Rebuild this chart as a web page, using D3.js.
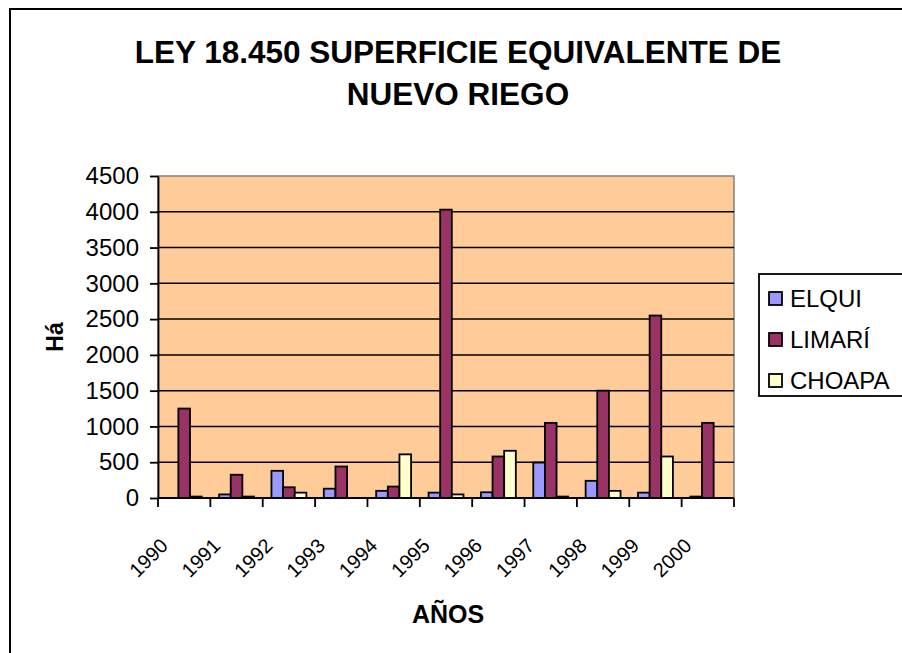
<!DOCTYPE html>
<html>
<head>
<meta charset="utf-8">
<script src="https://cdn.jsdelivr.net/npm/d3@7"></script>
<style>
  body { margin: 0; background: #fff; }
  svg { font-family: "Liberation Sans", Arial, sans-serif; }
</style>
</head>
<body>
<div id="chart"></div>
<script>
var years = ['1990', '1991', '1992', '1993', '1994', '1995', '1996', '1997', '1998', '1999', '2000'];
var seriesNames = ['ELQUI', 'LIMARÍ', 'CHOAPA'];
var elqui  = [0, 50, 380, 130, 100, 75, 80, 495, 240, 75, 20];
var limari = [1250, 325, 150, 440, 160, 4030, 580, 1050, 1500, 2550, 1050];
var choapa = [20, 20, 75, 0, 610, 50, 660, 20, 100, 580, 0];
var yTicks = [0, 500, 1000, 1500, 2000, 2500, 3000, 3500, 4000, 4500];
var colors = ['#9999FF', '#993366', '#FFFFCC'];

var W = 902, H = 653;
var plot = {left: 158, right: 734, top: 176, bottom: 498};

var svg = d3.select('#chart').append('svg')
    .attr('width', W)
    .attr('height', H);

// chart frame (runs off the right and bottom edges)
svg.append('rect')
    .attr('x', 10).attr('y', 9)
    .attr('width', W).attr('height', H)
    .attr('fill', '#fff')
    .attr('stroke', '#000')
    .attr('stroke-width', 2);

var title = svg.append('text')
    .attr('text-anchor', 'middle')
    .attr('font-weight', 'bold')
    .attr('font-size', 31.5);
title.append('tspan').attr('x', 458).attr('y', 63).text('LEY 18.450 SUPERFICIE EQUIVALENTE DE');
title.append('tspan').attr('x', 458).attr('y', 105).text('NUEVO RIEGO');

var x0 = d3.scaleBand()
    .domain(years)
    .range([plot.left, plot.right])
    .paddingInner(1 / 3)
    .paddingOuter(1 / 6);

var x1 = d3.scaleBand()
    .domain(seriesNames)
    .range([0, x0.bandwidth()]);

var y = d3.scaleLinear()
    .domain([0, 4500])
    .range([plot.bottom, plot.top]);

// plot area
svg.append('rect')
    .attr('x', plot.left).attr('y', plot.top)
    .attr('width', plot.right - plot.left)
    .attr('height', plot.bottom - plot.top)
    .attr('fill', '#FFCC99')
    .attr('stroke', '#808080')
    .attr('stroke-width', 1.5);

// gridlines
svg.append('g')
    .selectAll('line')
    .data(yTicks.slice(1, -1))
    .join('line')
    .attr('x1', plot.left).attr('x2', plot.right)
    .attr('y1', d => y(d)).attr('y2', d => y(d))
    .attr('stroke', '#000')
    .attr('stroke-width', 1.5);

// bars
var table = years.map((yr, i) => ({
  year: yr,
  values: [elqui[i], limari[i], choapa[i]]
}));

svg.append('g')
    .selectAll('g')
    .data(table)
    .join('g')
    .attr('transform', d => 'translate(' + x0(d.year) + ',0)')
    .selectAll('rect')
    .data(d => d.values.map((v, j) => ({name: seriesNames[j], value: v, color: colors[j]})))
    .join('rect')
    .filter(d => d.value > 0)
    .attr('x', d => x1(d.name))
    .attr('y', d => y(d.value))
    .attr('width', x1.bandwidth())
    .attr('height', d => y(0) - y(d.value))
    .attr('fill', d => d.color)
    .attr('stroke', '#000')
    .attr('stroke-width', 1.8);

// y axis
var yAxis = svg.append('g')
    .attr('transform', 'translate(' + plot.left + ',0)')
    .call(d3.axisLeft(y).tickValues(yTicks).tickFormat(d3.format('d'))
        .tickSize(8).tickPadding(11).tickSizeOuter(0));
yAxis.select('.domain').attr('stroke-width', 1.8);
yAxis.selectAll('.tick line').attr('stroke-width', 1.8);
yAxis.selectAll('text').attr('font-size', 24).attr('fill', '#000')
    .attr('font-family', '"Liberation Sans", Arial, sans-serif');

// x axis with ticks at category boundaries
var xAxis = svg.append('g');
xAxis.append('line')
    .attr('x1', plot.left).attr('x2', plot.right)
    .attr('y1', plot.bottom).attr('y2', plot.bottom)
    .attr('stroke', '#000').attr('stroke-width', 1.8);
var step = x0.step();
xAxis.selectAll('line.tk')
    .data(d3.range(years.length + 1))
    .join('line')
    .attr('class', 'tk')
    .attr('x1', i => plot.left + i * step).attr('x2', i => plot.left + i * step)
    .attr('y1', plot.bottom).attr('y2', plot.bottom + 9)
    .attr('stroke', '#000').attr('stroke-width', 1.8);
xAxis.selectAll('text')
    .data(years)
    .join('text')
    .attr('transform', d => 'translate(' + (x0(d) + x0.bandwidth() / 2 - 15) + ',' + (plot.bottom + 49) + ') rotate(-45)')
    .attr('text-anchor', 'end')
    .attr('font-size', 20)
    .text(d => d);

svg.append('text')
    .attr('x', 448).attr('y', 623)
    .attr('text-anchor', 'middle')
    .attr('font-weight', 'bold')
    .attr('font-size', 25)
    .text('AÑOS');

svg.append('text')
    .attr('transform', 'translate(63,337) rotate(-90)')
    .attr('text-anchor', 'middle')
    .attr('font-weight', 'bold')
    .attr('font-size', 23)
    .text('Há');

// legend
var legend = svg.append('g');
legend.append('rect')
    .attr('x', 759).attr('y', 274)
    .attr('width', 200).attr('height', 122)
    .attr('fill', '#fff')
    .attr('stroke', '#000')
    .attr('stroke-width', 1.8);
var items = legend.selectAll('g.item')
    .data(seriesNames)
    .join('g')
    .attr('class', 'item')
    .attr('transform', (d, i) => 'translate(769,' + (299 + i * 41) + ')');
items.append('rect')
    .attr('x', 0).attr('y', -7)
    .attr('width', 13).attr('height', 13)
    .attr('fill', (d, i) => colors[i])
    .attr('stroke', '#000')
    .attr('stroke-width', 1.8);
items.append('text')
    .attr('x', 21).attr('y', 8)
    .attr('font-size', 24)
    .text(d => d);
</script>
</body>
</html>
